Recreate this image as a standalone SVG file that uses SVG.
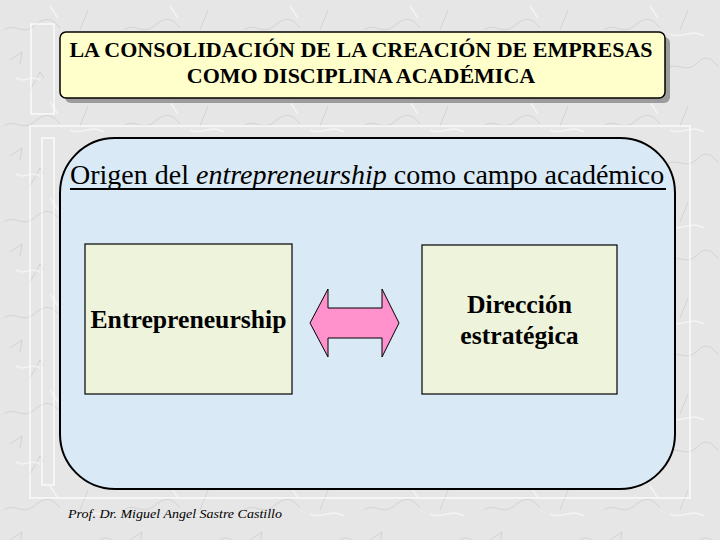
<svg xmlns="http://www.w3.org/2000/svg" width="720" height="540" viewBox="0 0 720 540">
  <defs>
    <pattern id="marble" x="0" y="0" width="120" height="96" patternUnits="userSpaceOnUse">
      <rect width="120" height="96" fill="#e6e6e6"/>
      <path d="M4 30 C14 22 22 36 34 26 S52 18 60 28 M66 70 C74 60 86 74 96 64 S110 58 118 66 M30 90 L40 72 L44 78 M88 10 L80 30 M10 60 L22 52 L20 64" fill="none" stroke="#d2d2d2" stroke-width="1"/>
      <path d="M16 78 C24 84 30 74 40 80 M70 34 C80 40 92 28 104 36 M50 6 L58 18" fill="none" stroke="#f2f2f2" stroke-width="1.6"/>
    </pattern>
  </defs>
  <style>
    .serif { font-family: "Liberation Serif", "Times New Roman", serif; }
    .frame { fill: none; stroke: #ffffff; stroke-width: 1.2; }
    .box { fill: #eef4dc; stroke: #000000; stroke-width: 1.2; }
    .boxtext { font-family: "Liberation Serif", "Times New Roman", serif; font-weight: bold; font-size: 25.7px; fill: #000000; text-anchor: middle; }
    .title { font-family: "Liberation Serif", "Times New Roman", serif; font-weight: bold; font-size: 22px; fill: #000000; text-anchor: middle; }
  </style>

  <rect x="0" y="0" width="720" height="540" fill="url(#marble)"/>

  <g id="frames">
    <rect x="31" y="24" width="23" height="90" fill="#ececec" fill-opacity="0.5" class="frame"/>
    <rect x="30" y="126" width="660" height="372" class="frame"/>
    <rect x="42" y="138" width="12" height="347" fill="#ececec" fill-opacity="0.5" class="frame"/>
  </g>

  <g id="title">
    <rect x="65" y="37" width="605" height="66" rx="6" fill="#9c9c9c"/>
    <rect x="60" y="32" width="605" height="66" rx="6" fill="#ffffcc" stroke="#000000" stroke-width="1.5"/>
    <text class="title" x="361" y="57">LA CONSOLIDACIÓN DE LA CREACIÓN DE EMPRESAS</text>
    <text class="title" x="361" y="83">COMO DISCIPLINA ACADÉMICA</text>
  </g>

  <g id="panel">
    <rect x="60" y="138" width="615" height="351" rx="55" ry="55" fill="#d9e9f5" stroke="#000000" stroke-width="2"/>
    <text class="serif" x="70" y="184" font-size="28" fill="#000000">Origen del <tspan font-style="italic">entrepreneurship</tspan> como campo académico</text>
    <rect x="70" y="188" width="596" height="2" fill="#000000"/>
  </g>

  <g id="node-entrepreneurship">
    <rect class="box" x="85" y="244" width="207" height="150"/>
    <text class="boxtext" x="188.5" y="328">Entrepreneurship</text>
  </g>

  <g id="node-direccion">
    <rect class="box" x="422" y="245" width="195" height="149"/>
    <text class="boxtext" x="519.5" y="313">Dirección</text>
    <text class="boxtext" x="519.5" y="344">estratégica</text>
  </g>

  <g id="connectors">
    <polygon points="310,323 328,289 328,308 382,308 382,289 399,323 382,357 382,338 328,338 328,357" fill="#ff91cc" stroke="#000000" stroke-width="1"/>
  </g>

  <g id="footer">
    <text class="serif" x="68" y="518" font-size="13.5" font-style="italic" fill="#000000" textLength="214" lengthAdjust="spacingAndGlyphs">Prof. Dr. Miguel Angel Sastre Castillo</text>
  </g>
</svg>
